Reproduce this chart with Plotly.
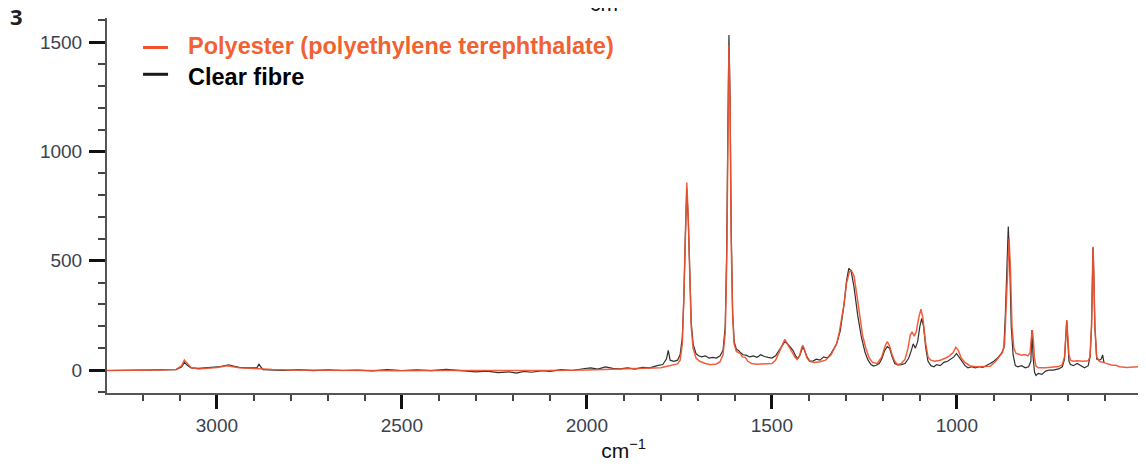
import plotly.graph_objects as go

# ---- Data ----
wavenumber_pet = [3297, 3200, 3150, 3110, 3095, 3088, 3080, 3070, 3050, 3020, 3000, 2985, 2972, 2960, 2940,
                  2910, 2890, 2870, 2850, 2800, 2700, 2600, 2500, 2400, 2300, 2200, 2100, 2000, 1950, 1900,
                  1850, 1800, 1780, 1765, 1755, 1748, 1742, 1738, 1734, 1730, 1726, 1722, 1718, 1713, 1705,
                  1695, 1680, 1665, 1650, 1640, 1632, 1626, 1622, 1619, 1616, 1613, 1610, 1606, 1602, 1596,
                  1590, 1585, 1580, 1572, 1565, 1555, 1540, 1520, 1500, 1490, 1480, 1470, 1465, 1460, 1452,
                  1445, 1438, 1432, 1425, 1419, 1416, 1412, 1405, 1398, 1385, 1370, 1355, 1340, 1325, 1318,
                  1305, 1298, 1290, 1285, 1278, 1270, 1262, 1255, 1246, 1237, 1228, 1215, 1203, 1194, 1188,
                  1182, 1175, 1168, 1160, 1150, 1140, 1132, 1126, 1121, 1115, 1110, 1103, 1097, 1092, 1085,
                  1078, 1070, 1060, 1045, 1030, 1020, 1010, 1003, 996, 988, 978, 965, 950, 930, 910, 895,
                  885, 877, 871, 867, 863, 859, 855, 851, 846, 840, 832, 825, 820, 814, 808, 802, 799, 796,
                  793, 790, 786, 780, 760, 740, 725, 715, 709, 706, 703, 700, 697, 693, 685, 675, 660, 645,
                  640, 636, 634, 632, 630, 627, 622, 615, 605, 595, 580, 570, 560, 540, 520, 505]
intensity_pet = [-2, -2, 0, 3, 20, 45, 28, 12, 5, 8, 12, 16, 20, 16, 10,
                 8, 6, 3, 2, 0, -2, -3, -3, -2, -2, -4, -2, 0, 2, 3,
                 5, 10, 18, 22, 28, 45, 120, 330, 640, 858, 700, 400, 200, 100, 55,
                 40, 30, 24, 28, 38, 70, 170, 500, 1000, 1487, 1200, 600, 250, 120, 85,
                 80, 75, 60, 58, 40, 30, 27, 28, 30, 45, 80, 120, 140, 125, 100,
                 80, 60, 48, 65, 105, 112, 95, 55, 40, 35, 38, 45, 70, 120, 170,
                 300, 400, 450, 454, 430, 340, 240, 160, 100, 55, 35, 30, 60, 110, 130,
                 110, 70, 40, 24, 30, 50, 100, 160, 175, 155, 175, 240, 278, 240, 130,
                 60, 45, 40, 45, 55, 65, 80, 104, 90, 55, 35, 20, 15, 15, 17, 40,
                 60, 80, 120, 260, 450, 602, 450, 200, 100, 76, 72, 68, 70, 70, 65, 80, 140, 183,
                 130, 50, 18, 10, 10, 12, 16, 25, 60, 140, 229, 150, 70, 45, 40, 42, 40, 42,
                 60, 200, 450, 564, 450, 200, 60, 40, 35, 30, 22, 22, 15, 12, 14, 16]

wavenumber_fibre = [3297, 3200, 3150, 3110, 3095, 3088, 3080, 3070, 3050, 3030, 3010, 2990, 2975, 2968, 2955,
                    2940, 2920, 2900, 2892, 2886, 2882, 2875, 2860, 2820, 2780, 2740, 2700, 2660, 2620, 2580,
                    2540, 2500, 2460, 2420, 2380, 2340, 2300, 2270, 2240, 2210, 2190, 2170, 2150, 2120, 2100,
                    2070, 2040, 2010, 1990, 1970, 1950, 1930, 1910, 1890, 1870, 1850, 1830, 1810, 1795, 1785,
                    1780, 1775, 1765, 1755, 1748, 1742, 1738, 1734, 1730, 1726, 1722, 1718, 1713, 1705, 1698,
                    1690, 1680, 1670, 1660, 1650, 1640, 1632, 1626, 1622, 1619, 1616, 1613, 1610, 1606, 1602,
                    1596, 1590, 1585, 1578, 1570, 1560, 1550, 1540, 1530, 1520, 1510, 1500, 1490, 1480, 1470,
                    1465, 1458, 1450, 1443, 1436, 1430, 1424, 1419, 1416, 1412, 1405, 1398, 1390, 1380, 1370,
                    1360, 1350, 1340, 1325, 1315, 1305, 1298, 1292, 1286, 1278, 1268, 1258, 1248, 1240, 1232,
                    1225, 1218, 1210, 1203, 1195, 1188, 1182, 1175, 1168, 1160, 1150, 1140, 1130, 1123, 1118,
                    1112, 1106, 1100, 1095, 1090, 1084, 1078, 1070, 1062, 1055, 1045, 1035, 1025, 1015, 1008,
                    1001, 994, 987, 978, 970, 960, 950, 940, 930, 920, 910, 900, 890, 880, 873,
                    869, 865, 861, 857, 853, 848, 842, 835, 825, 815, 806, 800, 797, 794, 790,
                    786, 780, 770, 760, 750, 740, 725, 715, 709, 706, 703, 700, 697, 693, 685,
                    675, 665, 655, 645, 640, 636, 634, 632, 630, 627, 622, 615, 610, 606, 603, 602]
intensity_fibre = [-2, -1, 0, 2, 15, 35, 22, 10, 8, 10, 14, 16, 22, 24, 18,
                   12, 10, 8, 10, 28, 15, 2, 0, -2, 2, -3, 1, -2, 0, -4,
                   2, -2, 1, -3, 3, -4, -8, -5, -12, -8, -14, -6, -10, -3, -6,
                   2, -2, 6, 10, 4, 14, 8, 5, 10, 4, 12, 10, 20, 25, 50,
                   90, 45, 40, 45, 70, 150, 320, 600, 830, 690, 420, 220, 120, 75, 65,
                   60, 65, 55, 58, 55, 65, 90, 200, 550, 1100, 1532, 1250, 650, 260, 130,
                   95, 90, 80, 70, 68, 60, 65, 58, 70, 62, 58, 55, 65, 90, 115,
                   130, 120, 105, 90, 65, 53, 70, 100, 108, 90, 60, 42, 40, 50, 45,
                   60, 55, 75, 120, 180, 300, 410, 465, 455, 380, 250, 150, 80, 45, 25,
                   18, 22, 30, 50, 90, 107, 100, 60, 30, 24, 25, 30, 55, 90, 120,
                   100, 130, 200, 236, 200, 100, 40, 20, 15, 25, 20, 35, 40, 50, 60,
                   76, 60, 40, 20, 10, 15, 10, 15, 12, 20, 30, 40, 55, 75, 100,
                   250, 470, 656, 480, 200, 70, 20, 15, 20, 10, 15, 40, 183, 60, -10,
                   -25, -15, -20, -5, 0, 0, 5, 15, 50, 140, 225, 130, 40, 25, 20,
                   30, 18, 10, 20, 60, 200, 450, 560, 450, 200, 50, 45, 50, 69, 40, 35]

series_names = ["Polyester (polyethylene terephthalate)", "Clear fibre"]
series_colors = ["#f0522e", "#1a1a1a"]
legend_text_colors = ["#f26130", "#000000"]

x_tick_vals = [3000, 2500, 2000, 1500, 1000]
y_tick_vals = [0, 500, 1000, 1500]

# ---- Figure ----
fig = go.Figure()

fig.add_trace(go.Scatter(x=wavenumber_fibre, y=intensity_fibre, mode="lines", name=series_names[1],
                         line=dict(color=series_colors[1], width=1.2), opacity=0.9,
                         showlegend=False, hoverinfo="skip"))
fig.add_trace(go.Scatter(x=wavenumber_pet, y=intensity_pet, mode="lines", name=series_names[0],
                         line=dict(color=series_colors[0], width=1.5), opacity=0.92,
                         showlegend=False, hoverinfo="skip"))

tick_font = dict(family="Liberation Sans, Arial, sans-serif", size=19, color="#3b4150")

fig.update_xaxes(
    range=[3297, 505], showline=True, linecolor="#555555", linewidth=2,
    showgrid=False, zeroline=False,
    tickmode="array", tickvals=x_tick_vals, ticktext=[str(v) for v in x_tick_vals],
    ticks="outside", ticklen=14, tickwidth=3, tickcolor="#111111",
    minor=dict(dtick=100, tick0=0, ticks="outside", ticklen=6, tickwidth=1.5,
               tickcolor="#444444", showgrid=False),
    tickfont=tick_font,
    title=dict(text="cm<sup>−1</sup>", font=dict(family="Liberation Sans, Arial, sans-serif",
                                                  size=21, color="#111111"), standoff=8),
)
fig.update_yaxes(
    range=[-105, 1610], showline=True, linecolor="#555555", linewidth=2,
    showgrid=False, zeroline=False,
    tickmode="array", tickvals=y_tick_vals, ticktext=[str(v) for v in y_tick_vals],
    ticks="outside", ticklen=16, tickwidth=3, tickcolor="#111111",
    minor=dict(dtick=100, tick0=0, ticks="outside", ticklen=7, tickwidth=1.5,
               tickcolor="#444444", showgrid=False),
    tickfont=tick_font, ticklabelstandoff=3,
)

# panel number
fig.add_annotation(text="<b>3</b>", xref="paper", yref="paper", x=-0.088, y=1.004,
                   xanchor="center", yanchor="middle", showarrow=False,
                   font=dict(family="Open Sans, sans-serif", size=22, color="#222222"))
# cut-off axis label of the panel above (only its lower edge shows at the top of the picture)
fig.add_annotation(text="cm<sup>−1</sup>", xref="paper", yref="paper", x=0.489, y=1.003,
                   xanchor="center", yanchor="bottom", showarrow=False,
                   font=dict(family="Liberation Sans, Arial, sans-serif", size=21, color="#111111"))

# legend (key lines + bold coloured labels)
legend_line_y = [0.9213, 0.8499]
legend_text_y = [0.926, 0.843]
for name, col, tcol, ly, ty in zip(series_names, series_colors, legend_text_colors,
                                   legend_line_y, legend_text_y):
    fig.add_shape(type="line", xref="paper", yref="paper", x0=0.0349, x1=0.0591, y0=ly, y1=ly,
                  line=dict(color=col, width=3))
    fig.add_annotation(text=f"<b>{name}</b>", xref="paper", yref="paper", x=0.0765, y=ty,
                       xanchor="left", yanchor="middle", showarrow=False,
                       font=dict(family="Liberation Sans, Arial, sans-serif", size=23.5, color=tcol))

# page body has an 8px margin: shrink figure so the plot area lands where the reference has it
fig.update_layout(
    width=1138, height=466,
    margin=dict(l=99, r=6, t=10, b=81),
    plot_bgcolor="white", paper_bgcolor="white",
    showlegend=False,
)

fig.write_html("out.html")
